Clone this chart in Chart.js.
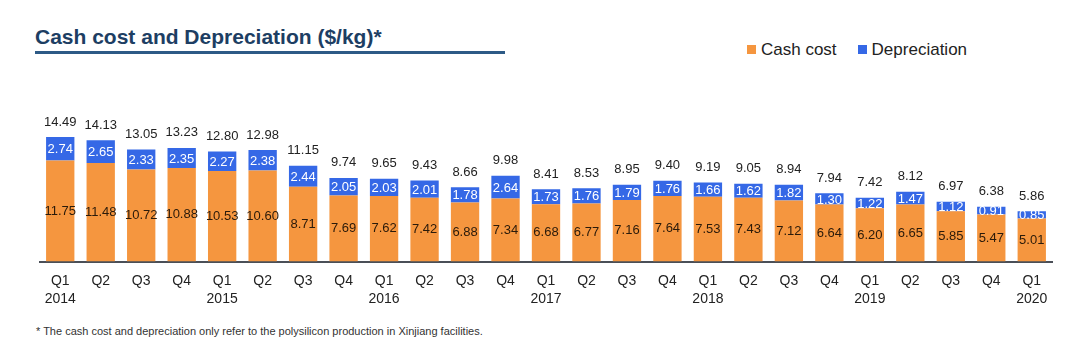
<!DOCTYPE html>
<html>
<head>
<meta charset="utf-8">
<script src="https://cdn.jsdelivr.net/npm/chart.js@4/dist/chart.umd.min.js"></script>
<style>
  body { margin: 0; background: #fff; font-family: "Liberation Sans", Arial, sans-serif; }
  #page { position: relative; width: 1080px; height: 343px; overflow: hidden; }
  #title { position: absolute; left: 35px; top: 25px; font-size: 21px; font-weight: bold; color: #1d3e63; }
  #rule { position: absolute; left: 35px; top: 51px; width: 470px; height: 3px; background: #2d5a86; }
  #legend { position: absolute; left: 747px; top: 40px; font-size: 17px; color: #222; white-space: nowrap; }
  #legend span.sw { display: inline-block; width: 9px; height: 9px; margin-right: 5px; vertical-align: 1px; }
  #legend span.item { margin-right: 21px; }
  #note { position: absolute; left: 36px; top: 325px; font-size: 11px; color: #333; }
  #chart { position: absolute; left: 0; top: 90px; }
</style>
</head>
<body>
<div id="page">
  <div id="title">Cash cost and Depreciation ($/kg)*</div>
  <div id="rule"></div>
  <div id="legend"></div>
  <canvas id="chart" width="1080" height="225"></canvas>
  <div id="note">* The cash cost and depreciation only refer to the polysilicon production in Xinjiang facilities.</div>
</div>
<script>
var quarters = ['Q1', 'Q2', 'Q3', 'Q4', 'Q1', 'Q2', 'Q3', 'Q4', 'Q1', 'Q2', 'Q3', 'Q4', 'Q1',
    'Q2', 'Q3', 'Q4', 'Q1', 'Q2', 'Q3', 'Q4', 'Q1', 'Q2', 'Q3', 'Q4', 'Q1'];
var years = ['2014', '', '', '', '2015', '', '', '', '2016', '', '', '', '2017',
    '', '', '', '2018', '', '', '', '2019', '', '', '', '2020'];
var cashCost = [11.75, 11.48, 10.72, 10.88, 10.53, 10.60, 8.71, 7.69, 7.62, 7.42, 6.88, 7.34, 6.68,
    6.77, 7.16, 7.64, 7.53, 7.43, 7.12, 6.64, 6.20, 6.65, 5.85, 5.47, 5.01];
var depreciation = [2.74, 2.65, 2.33, 2.35, 2.27, 2.38, 2.44, 2.05, 2.03, 2.01, 1.78, 2.64, 1.73,
    1.76, 1.79, 1.76, 1.66, 1.62, 1.82, 1.30, 1.22, 1.47, 1.12, 0.91, 0.85];
var totals = [14.49, 14.13, 13.05, 13.23, 12.80, 12.98, 11.15, 9.74, 9.65, 9.43, 8.66, 9.98, 8.41,
    8.53, 8.95, 9.40, 9.19, 9.05, 8.94, 7.94, 7.42, 8.12, 6.97, 6.38, 5.86];
var yMax = 18.8;

var orange = '#f5963f';
var blue = '#3568e6';

var labels = quarters.map(function (q, i) { return [q, years[i]]; });

// value labels: inside each segment + total above the stack
var valueLabels = {
    id: 'valueLabels',
    afterDatasetsDraw: function (chart) {
        var ctx = chart.ctx;
        ctx.save();
        ctx.textAlign = 'center';
        ctx.textBaseline = 'middle';
        ctx.font = '13px "Liberation Sans", Arial, sans-serif';
        var cashMeta = chart.getDatasetMeta(0);
        var depMeta = chart.getDatasetMeta(1);
        cashMeta.data.forEach(function (bar, i) {
            ctx.fillStyle = '#2a1a0a';
            ctx.fillText(cashCost[i].toFixed(2), bar.x, (bar.y + bar.base) / 2);
            var d = depMeta.data[i];
            ctx.fillStyle = '#ffffff';
            ctx.fillText(depreciation[i].toFixed(2), d.x, (d.y + d.base) / 2 + 1);
            ctx.fillStyle = '#222';
            ctx.fillText(totals[i].toFixed(2), d.x, d.y - 15);
        });
        ctx.restore();
    }
};

var chart = new Chart(document.getElementById('chart'), {
    type: 'bar',
    data: {
        labels: labels,
        datasets: [
            { label: 'Cash cost', data: cashCost, backgroundColor: orange },
            { label: 'Depreciation', data: depreciation, backgroundColor: blue }
        ]
    },
    options: {
        responsive: false,
        animation: false,
        devicePixelRatio: 1,
        layout: { padding: { left: 40, right: 28, top: 10, bottom: 5 } },
        datasets: { bar: { barPercentage: 0.7, categoryPercentage: 1.0 } },
        plugins: { legend: { display: false }, tooltip: { enabled: false } },
        scales: {
            x: {
                stacked: true,
                grid: { display: false },
                border: { color: '#4a4f57', width: 2 },
                ticks: {
                    color: '#222',
                    padding: 2,
                    maxRotation: 0,
                    autoSkip: false,
                    font: { family: '"Liberation Sans", Arial, sans-serif', size: 14, lineHeight: 1.3 }
                }
            },
            y: { stacked: true, display: false, min: 0, max: yMax }
        }
    },
    plugins: [valueLabels]
});

var legendEl = document.getElementById('legend');
chart.data.datasets.forEach(function (ds) {
    legendEl.innerHTML += '<span class="item"><span class="sw" style="background:' + ds.backgroundColor +
        '"></span>' + ds.label + '</span>';
});
</script>
</body>
</html>
